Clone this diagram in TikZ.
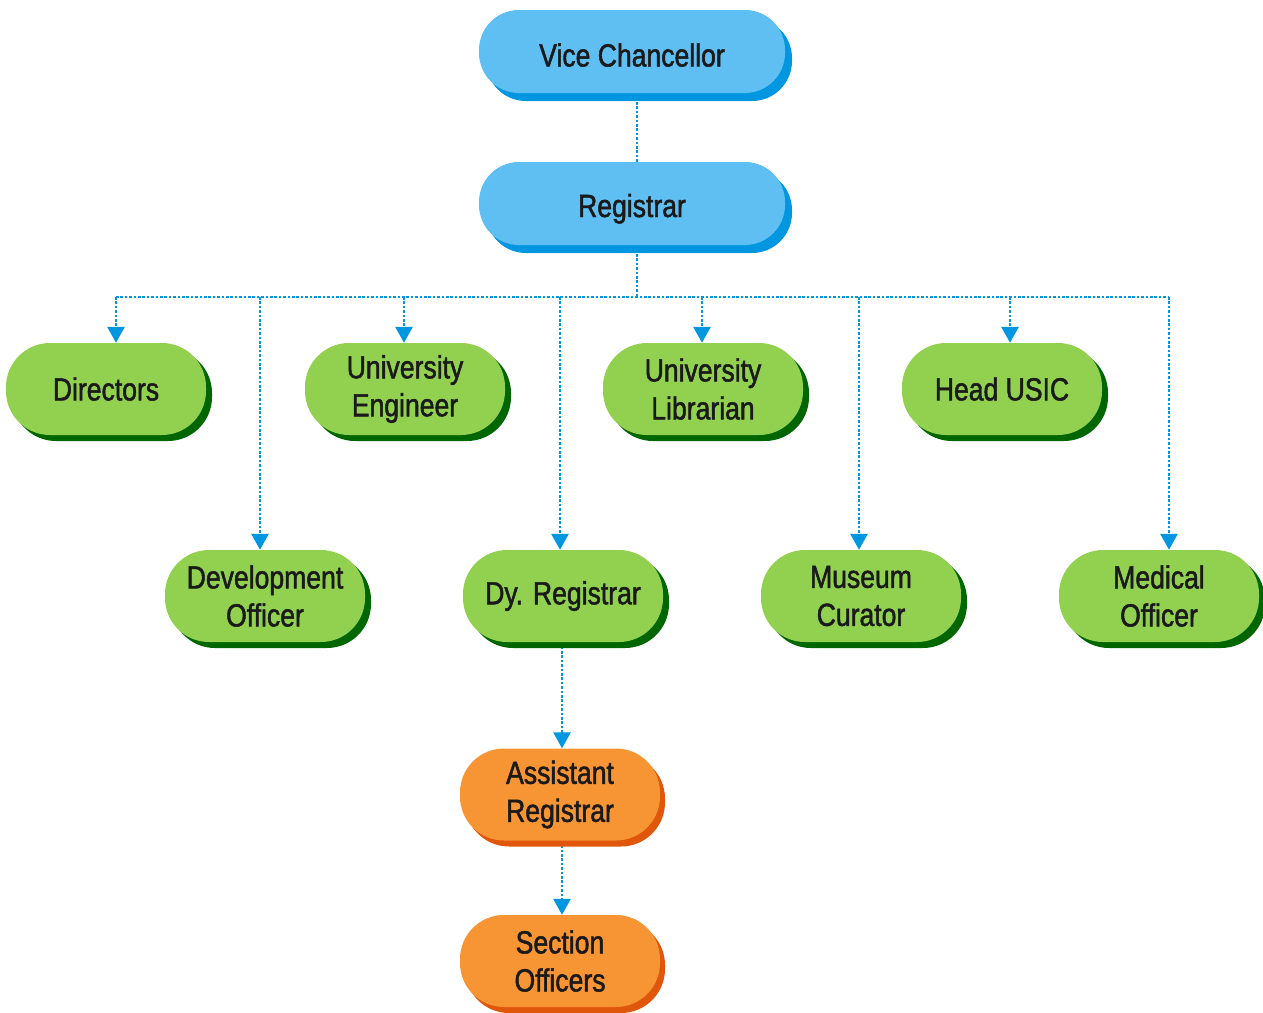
\documentclass[tikz,border=0pt]{standalone}
\usepackage{fontspec}
\setmainfont{Liberation Sans}[FakeStretch=0.83,FakeBold=1.5]
\usetikzlibrary{arrows.meta,shadows,backgrounds}
\definecolor{bluefill}{HTML}{5FBEF2}
\definecolor{blueshadow}{HTML}{0096E0}
\definecolor{greenfill}{HTML}{92D050}
\definecolor{greenshadow}{HTML}{006600}
\definecolor{orangefill}{HTML}{F79433}
\definecolor{orangeshadow}{HTML}{E0560A}
\definecolor{linecol}{HTML}{0096E0}
\definecolor{txt}{HTML}{1A1A1A}
\begin{document}
\begin{tikzpicture}[x=1pt,y=-1pt,
  box/.style={rectangle, rounded corners=44pt, minimum width=200pt, minimum height=92pt,
    inner sep=0pt, align=center, text=txt, font=\fontsize{32}{38}\selectfont},
  bluebox/.style={box, fill=bluefill, minimum width=306pt, minimum height=83pt, rounded corners=40pt,
    general shadow={shadow xshift=7pt, shadow yshift=-8pt, fill=blueshadow}},
  greenbox/.style={box, fill=greenfill,
    general shadow={shadow xshift=6pt, shadow yshift=-6pt, fill=greenshadow}},
  orangebox/.style={box, fill=orangefill,
    general shadow={shadow xshift=5pt, shadow yshift=-6pt, fill=orangeshadow}},
  conn/.style={draw=linecol, line width=2.7pt, dash pattern=on 2.6pt off 1.8pt},
  arr/.style={conn, -{Triangle[width=17pt,length=16pt]}}
]
\useasboundingbox (0,0) rectangle (1263,1012);

\node[bluebox] (vc) at (632,51.5) {\raisebox{-15pt}[0pt][0pt]{Vice Chancellor}};
\node[bluebox] (reg) at (632,203.5) {\raisebox{-13.5pt}[0pt][0pt]{Registrar}};

\node[greenbox] (dir) at (106,389) {Directors};
\node[greenbox] (ue) at (405,389) {University\\Engineer};
\node[greenbox] (ul) at (703,389) {University\\Librarian};
\node[greenbox] (hu) at (1002,389) {Head USIC};

\node[greenbox] (dev) at (265,596) {Development\\Officer};
\node[greenbox] (dy) at (563,596) {Dy. Registrar};
\node[greenbox] (mus) at (861,596) {Museum\\Curator};
\node[greenbox] (med) at (1159,596) {Medical\\Officer};

\node[orangebox] (ar) at (560,794.5) {Assistant\\Registrar};
\node[orangebox] (so) at (560,961) {Section\\Officers};

\coordinate (bus) at (637,297);

\begin{pgfonlayer}{background}
\draw[conn] ([xshift=5pt]vc.south) -- ([xshift=5pt]reg.north);
\draw[conn] ([xshift=5pt]reg.south) -- (bus);
\draw[conn] ([xshift=10pt]dir.north |- bus) -- ([xshift=10pt]med.north |- bus);
\draw[arr] ([xshift=10pt]dir.north |- bus) -- ([xshift=10pt]dir.north);
\draw[arr] ([xshift=-1pt]ue.north |- bus) -- ([xshift=-1pt]ue.north);
\draw[arr] ([xshift=-1pt]ul.north |- bus) -- ([xshift=-1pt]ul.north);
\draw[arr] ([xshift=8pt]hu.north |- bus) -- ([xshift=8pt]hu.north);
\draw[arr] ([xshift=-5pt]dev.north |- bus) -- ([xshift=-5pt]dev.north);
\draw[arr] ([xshift=-3pt]dy.north |- bus) -- ([xshift=-3pt]dy.north);
\draw[arr] ([xshift=-2pt]mus.north |- bus) -- ([xshift=-2pt]mus.north);
\draw[arr] ([xshift=10pt]med.north |- bus) -- ([xshift=10pt]med.north);
\draw[arr] ([xshift=2pt]ar.north |- dy.south) -- ([xshift=2pt]ar.north);
\draw[arr] ([xshift=2pt]so.north |- ar.south) -- ([xshift=2pt]so.north);
\end{pgfonlayer}
\end{tikzpicture}
\end{document}
